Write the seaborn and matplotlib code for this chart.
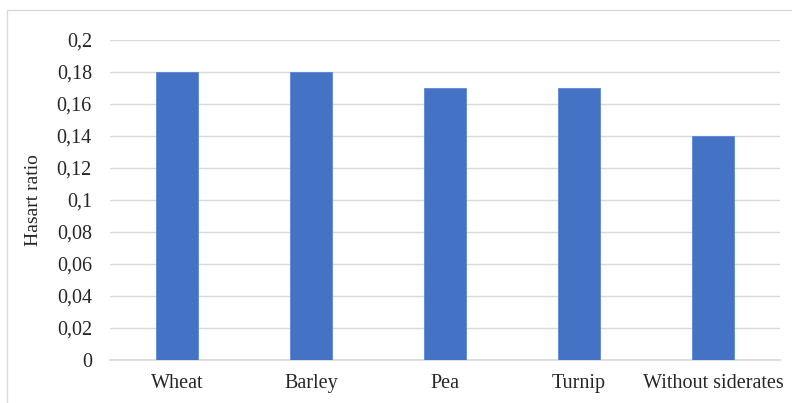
import matplotlib
matplotlib.use("Agg")
import matplotlib.pyplot as plt
import seaborn as sns
import pandas as pd
from matplotlib.ticker import FuncFormatter
from matplotlib.patches import Rectangle

categories = ["Wheat", "Barley", "Pea", "Turnip", "Without siderates"]
values = [0.18, 0.18, 0.17, 0.17, 0.14]
yticks = [0, 0.02, 0.04, 0.06, 0.08, 0.1, 0.12, 0.14, 0.16, 0.18, 0.2]

sns.set_theme(style="white")
plt.rcParams["font.family"] = ["Liberation Serif", "DejaVu Serif"]

df = pd.DataFrame({"cat": categories, "val": values})

fig = plt.figure(figsize=(7.92, 4.03), dpi=100)
ax = fig.add_axes([110/792, 1-360/403, 670/792, 320/403])
sns.barplot(data=df, x="cat", y="val", color="#4472C4", width=0.31,
            saturation=1, ax=ax, zorder=3, edgecolor="#5B87D6", linewidth=0.6)

ax.set_ylim(0, 0.2)
ax.set_yticks(yticks)
ax.yaxis.set_major_formatter(FuncFormatter(lambda v, p: ("%g" % round(v, 2)).replace(".", ",")))
ax.grid(axis="y", color="#D9D9D9", linewidth=1, zorder=0)
ax.grid(axis="x", visible=False)
for s in ["top", "right", "left"]:
    ax.spines[s].set_visible(False)
ax.spines["bottom"].set_color("#D9D9D9")
ax.spines["bottom"].set_zorder(1)
ax.tick_params(axis="both", length=0, labelsize=14.5, colors="#262626")
ax.tick_params(axis="y", pad=13)
ax.tick_params(axis="x", pad=10)
ax.set_xlabel("")
ax.set_ylabel("Hasart ratio", fontsize=14, color="#262626")
ax.yaxis.set_label_coords(-68/670, 0.5)

fig.patches.append(Rectangle((7/792, -0.1), 1.2, 1-10/403+0.1, transform=fig.transFigure,
                             fill=False, edgecolor="#D9D9D9", linewidth=1))

fig.savefig("out.png", dpi=100)
